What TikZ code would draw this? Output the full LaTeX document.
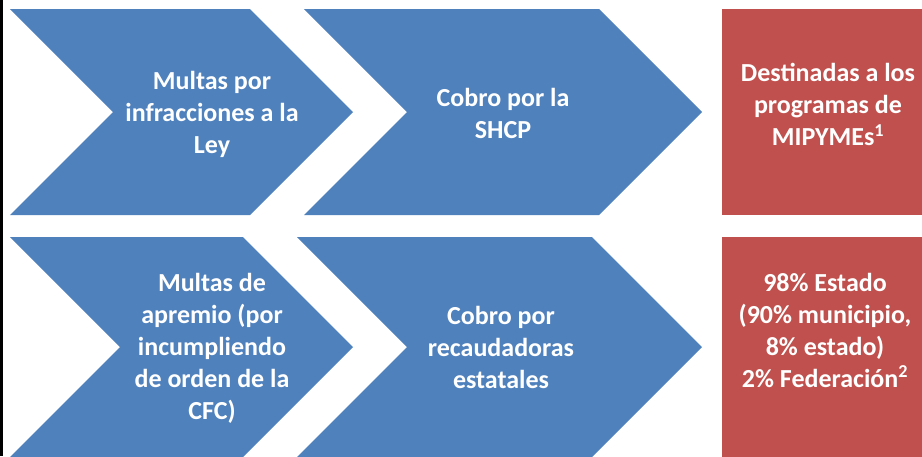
\documentclass[tikz,border=0pt]{standalone}
\usepackage{fontspec}
\setmainfont{Carlito}
\usepackage{tikz}
\definecolor{chevblue}{HTML}{4F81BD}
\definecolor{destred}{HTML}{C0504D}
\tikzset{
  label text/.style={text=white,font=\bfseries\fontsize{26}{32}\selectfont,align=center,inner sep=0pt}
}

\begin{document}
\begin{tikzpicture}[x=1pt,y=-1pt]
      \useasboundingbox (0,0) rectangle (922,456);
      \clip (0,0) rectangle (922,456);
      \fill[black] (0,0) rectangle (3,456);
      % first row
      \fill[chevblue] (10,9) -- (250,9) -- (353,112) -- (250,215) -- (10,215) -- (113,112) -- cycle;
      \fill[chevblue] (304,9) -- (599,9) -- (702,112) -- (599,215) -- (304,215) -- (407,112) -- cycle;
      \fill[destred] (722,9) rectangle (935,215);
      \node[label text] (multas) at (212,114) {Multas por\\infracciones a la\\Ley};
      \node[label text] (shcp) at (503,113) {Cobro por la\\SHCP};
      \node[label text] (mipymes) at (828,104) {Destinadas a los\\programas de\\MIPYMEs\textsuperscript{1}};
      % second row
      \fill[chevblue] (10,237) -- (243,237) -- (353,347) -- (243,457) -- (10,457) -- (120,347) -- cycle;
      \fill[chevblue] (297,237) -- (592,237) -- (702,347) -- (592,457) -- (297,457) -- (407,347) -- cycle;
      \fill[destred] (722,237) rectangle (935,470);
      \node[label text] (apremio) at (212,348) {Multas de\\apremio (por\\incumpliendo\\de orden de la\\CFC)};
      \node[label text] (estatales) at (501,347) {Cobro por\\recaudadoras\\estatales};
      \node[label text] (estado) at (825,330) {98\% Estado\\(90\% municipio,\\8\% estado)\\2\% Federación\textsuperscript{2}};
\end{tikzpicture}
\end{document}
